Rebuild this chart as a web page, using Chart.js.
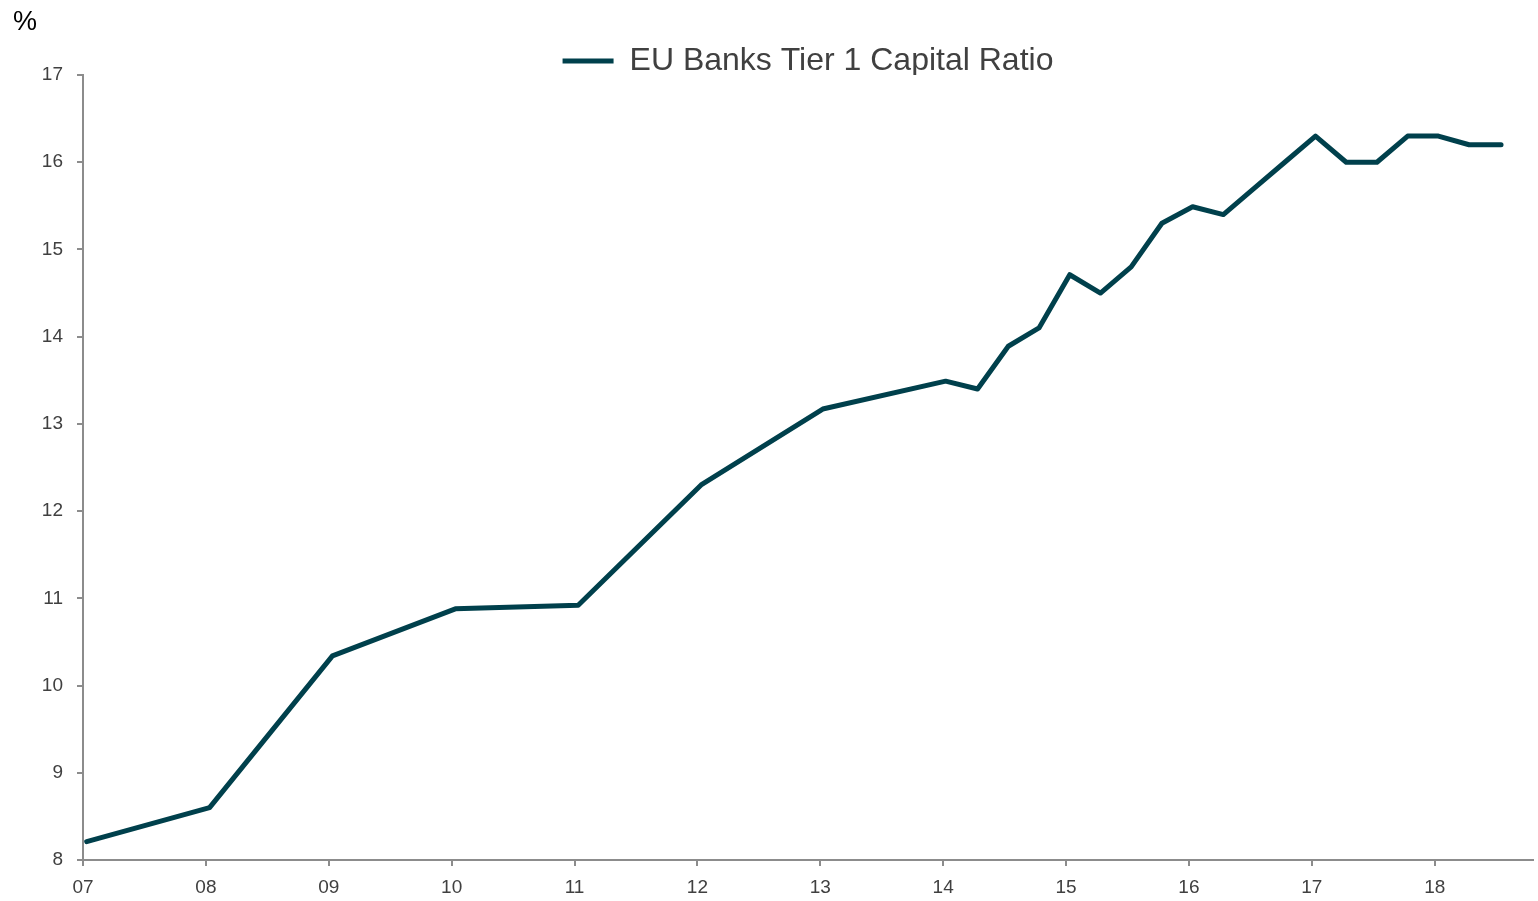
<!DOCTYPE html>
<html>
<head>
<meta charset="utf-8">
<script src="https://cdn.jsdelivr.net/npm/chart.js@4"></script>
<style>
  html, body { margin: 0; padding: 0; background: #ffffff; }
  #wrap { width: 1538px; height: 901px; position: relative; }
</style>
</head>
<body>
<div id="wrap"><canvas id="myChart"></canvas></div>
<script>
// data (x = year 20xx as decimal, y = %)
const periods = [7.03, 8.03, 9.03, 10.03, 11.03, 12.03, 13.02, 14.02,
    14.28, 14.53, 14.78, 15.03, 15.28, 15.53, 15.78, 16.03, 16.28,
    16.53, 16.78, 17.03, 17.28, 17.53, 17.78, 18.03, 18.28, 18.54];
const tier1Ratio = [8.21, 8.60, 10.34, 10.88, 10.92, 12.30, 13.17, 13.49,
    13.40, 13.89, 14.10, 14.71, 14.50, 14.80, 15.30, 15.49, 15.40,
    15.70, 16.00, 16.30, 16.00, 16.00, 16.30, 16.30, 16.20, 16.20];
const yearLabels = ["07", "08", "09", "10", "11", "12", "13", "14", "15", "16", "17", "18"];
const seriesName = "EU Banks Tier 1 Capital Ratio";

const lineColor = "#00404c";
const axisColor = "#8c8c8c";
const textColor = "#404040";
const fontFamily = "'Liberation Sans', Arial, sans-serif";

// "%" unit label in the top left corner
const unitLabel = {
    id: "unitLabel",
    afterDraw(chart) {
        const ctx = chart.ctx;
        ctx.save();
        ctx.font = "27px " + fontFamily;
        ctx.fillStyle = "#000000";
        ctx.textAlign = "left";
        ctx.textBaseline = "alphabetic";
        ctx.fillText("%", 13, 30);
        ctx.restore();
    }
};

function start() {
    const ctx = document.getElementById("myChart").getContext("2d");
    const points = periods.map((p, i) => ({ x: p, y: tier1Ratio[i] }));

    new Chart(ctx, {
        type: "line",
        data: {
            datasets: [{
                label: seriesName,
                data: points,
                borderColor: lineColor,
                backgroundColor: lineColor,
                borderWidth: 5,
                borderCapStyle: "round",
                borderJoinStyle: "round",
                pointRadius: 0,
                tension: 0,
                fill: false
            }]
        },
        options: {
            responsive: true,
            maintainAspectRatio: false,
            animation: false,
            layout: {
                padding: { top: 38, right: 5, bottom: 0, left: 0 }
            },
            plugins: {
                legend: {
                    display: true,
                    position: "top",
                    fullSize: false,
                    maxHeight: 37,
                    labels: {
                        usePointStyle: true,
                        pointStyle: "line",
                        pointStyleWidth: 51,
                        padding: 7,
                        color: textColor,
                        font: { family: fontFamily, size: 32 }
                    }
                },
                tooltip: { enabled: false }
            },
            scales: {
                x: {
                    type: "linear",
                    min: 7,
                    max: 18.8,
                    afterFit: (scale) => { scale.height = 41; },
                    border: { display: true, color: axisColor, width: 2 },
                    grid: {
                        drawOnChartArea: false,
                        drawTicks: true,
                        tickLength: 6,
                        color: axisColor,
                        lineWidth: 2
                    },
                    ticks: {
                        stepSize: 1,
                        includeBounds: false,
                        padding: 10,
                        maxRotation: 0,
                        color: textColor,
                        font: { family: fontFamily, size: 19 },
                        callback: (value) => yearLabels[Math.round(value) - 7]
                    }
                },
                y: {
                    min: 8,
                    max: 17,
                    afterFit: (scale) => { scale.width = 83; },
                    border: { display: true, color: axisColor, width: 2 },
                    grid: {
                        drawOnChartArea: false,
                        drawTicks: true,
                        tickLength: 6,
                        color: axisColor,
                        lineWidth: 2
                    },
                    ticks: {
                        stepSize: 1,
                        padding: 14,
                        color: textColor,
                        font: { family: fontFamily, size: 19 }
                    }
                }
            }
        },
        plugins: [unitLabel]
    });
}

window.addEventListener("load", start, false);
</script>
</body>
</html>
